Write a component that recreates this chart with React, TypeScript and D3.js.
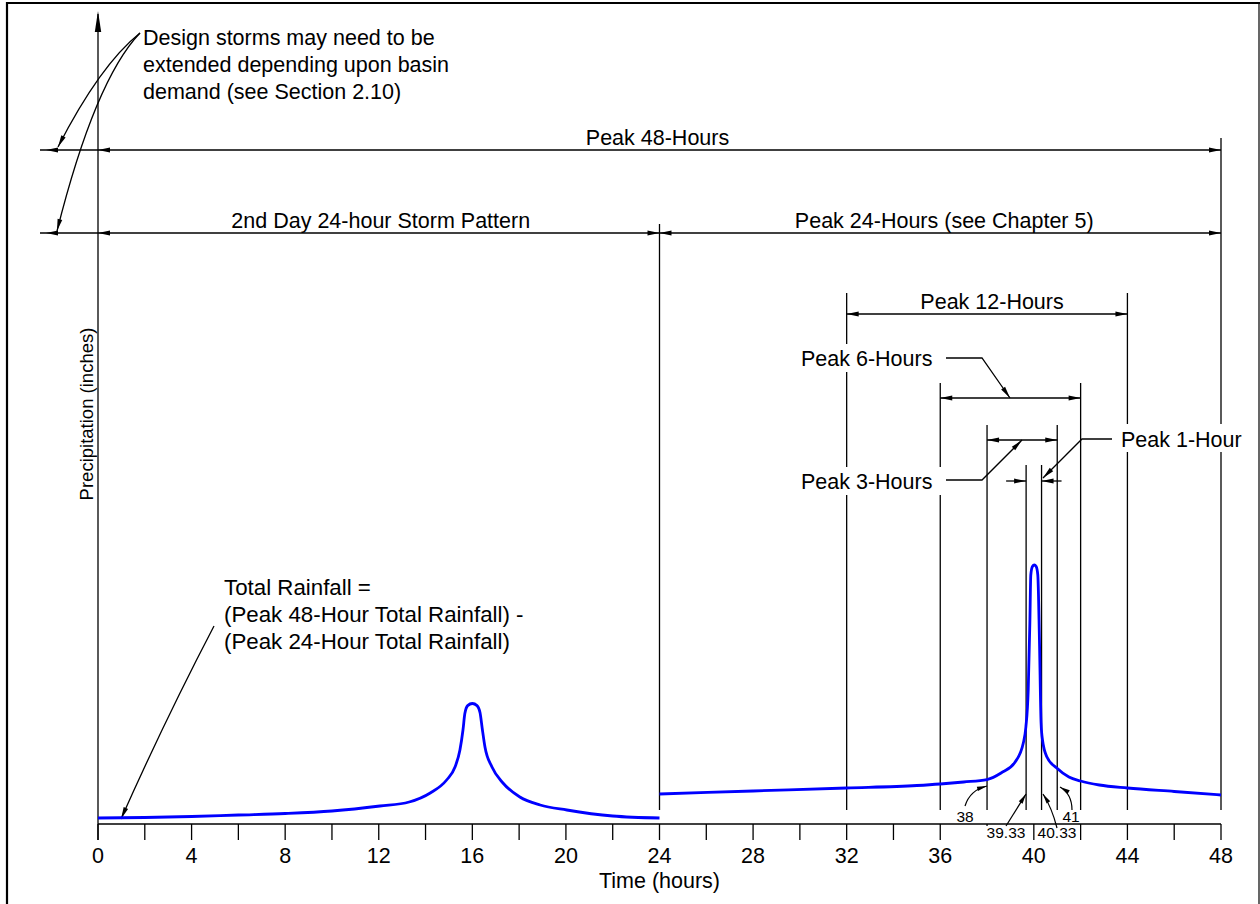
import React from 'react';
import * as d3 from 'd3';

// ---------- data ----------
const tickHours = d3.range(0, 49, 2);
const tickLabelHours = [0, 4, 8, 12, 16, 20, 24, 28, 32, 36, 40, 44, 48];

// 2nd day 24-hour storm pattern (hours, relative precipitation)
const day2Hours = [0, 2, 4, 6, 8, 10, 12.05, 13.3, 14.2, 14.9, 15.26, 15.47, 15.6, 15.68, 15.8, 16.0, 16.2, 16.33, 16.42, 16.54, 16.84, 17.31, 18.03, 18.9, 20.04, 22, 24];
const day2Values = [0.75, 0.81, 0.94, 1.125, 1.31, 1.625, 2.25, 2.75, 3.875, 5.5, 7.125, 9.25, 11.75, 13.8, 14.8, 15.06, 14.8, 13.9, 12.0, 9.625, 7.125, 5.125, 3.375, 2.375, 1.75, 1.0, 0.75];

// peak 24-hour storm (hours, relative precipitation)
const peakHours = [24, 28, 32, 35, 36, 37, 38, 38.6, 39.2, 39.55, 39.66, 39.76, 39.83, 39.87, 39.94, 40.02, 40.1, 40.17, 40.24, 40.31, 40.37, 40.56, 40.98, 41.5, 42, 42.8, 44, 46, 48];
const peakValues = [3.75, 4.125, 4.5, 4.81, 5.0, 5.25, 5.56, 6.375, 7.75, 10.125, 12.125, 16.75, 25.125, 31.125, 32.19, 32.375, 32.19, 31.125, 23, 12.625, 10.5, 8.375, 7.0, 5.875, 5.375, 4.875, 4.5, 4.06, 3.625];

// duration windows (hours)
const win48 = [0, 48];
const win2nd = [0, 24];
const win24 = [24, 48];
const win12 = [32, 44];
const win6 = [36, 42];
const win3 = [38, 41];
const win1Drawn = [39.67, 40.33]; // positions as drawn in the figure
const win1Labels = ['39.33', '40.33'];
const win3Labels = ['38', '41'];

const noteLines = ['Design storms may need to be', 'extended depending upon basin', 'demand (see Section 2.10)'];
const totalLines = ['Total Rainfall =', '(Peak 48-Hour Total Rainfall) -', '(Peak 24-Hour Total Rainfall)'];

// ---------- layout ----------
const FONT = '"Liberation Sans", Arial, Helvetica, sans-serif';
const FS = 21.5;
const AXIS_Y = 824;
const EXT_BOTTOM = 810;

const x = d3.scaleLinear().domain([0, 48]).range([98, 1221]);
const y = d3.scaleLinear().domain([0, 100]).range([AXIS_Y, 24]);

const line = d3.line<number>()
  .x((d: any) => x(d[0]))
  .y((d: any) => y(d[1]))
  .curve(d3.curveMonotoneX) as any;

function arrowHead(tx: number, ty: number, dx: number, dy: number, len = 12, half = 2.4, key?: string) {
  const m = Math.hypot(dx, dy) || 1;
  const ux = dx / m, uy = dy / m;
  const bx = tx - ux * len, by = ty - uy * len;
  const px = -uy * half, py = ux * half;
  const pts = `${tx},${ty} ${bx + px},${by + py} ${bx - px},${by - py}`;
  return <polygon key={key} points={pts} fill="#000" stroke="none" />;
}

function DimLine({ x1, x2, yy }: { x1: number; x2: number; yy: number }) {
  return (
    <g>
      <line x1={x1} x2={x2} y1={yy} y2={yy} stroke="#000" strokeWidth={1.3} />
      {arrowHead(x1, yy, -1, 0)}
      {arrowHead(x2, yy, 1, 0)}
    </g>
  );
}

export default function App() {
  const day2 = day2Hours.map((h, i) => [h, day2Values[i]]);
  const peak = peakHours.map((h, i) => [h, peakValues[i]]);

  const vline = (h: number, top: number, key: string) => (
    <line key={key} x1={x(h)} x2={x(h)} y1={top} y2={EXT_BOTTOM} stroke="#000" strokeWidth={1.3} />
  );

  const mask = (x0: number, y0: number, w: number, h: number, key: string) => (
    <rect key={key} x={x0} y={y0} width={w} height={h} fill="#fff" />
  );

  return (
    <svg width={1260} height={904} style={{ position: 'absolute', left: 0, top: 0, background: '#fff' }}
      fontFamily={FONT}>
      <rect x={0} y={0} width={1260} height={904} fill="#fff" />
      {/* frame */}
      <line x1={7} x2={7} y1={2} y2={904} stroke="#000" strokeWidth={2.2} />
      <line x1={6} x2={1260} y1={3} y2={3} stroke="#000" strokeWidth={2.2} />
      <line x1={1259} x2={1259} y1={2} y2={904} stroke="#000" strokeWidth={1.2} />

      {/* y axis */}
      <line x1={x(0)} x2={x(0)} y1={14} y2={840} stroke="#000" strokeWidth={1.3} />
      {arrowHead(x(0), 11, 0, -1, 21, 3.2)}
      <text transform={`translate(93,414) rotate(-90)`} textAnchor="middle" fontSize={18.5} fill="#000">Precipitation (inches)</text>

      {/* x axis */}
      <line x1={x(0)} x2={x(48)} y1={AXIS_Y} y2={AXIS_Y} stroke="#000" strokeWidth={1.3} />
      {tickHours.map(h => (
        <line key={'t' + h} x1={x(h)} x2={x(h)} y1={AXIS_Y} y2={840} stroke="#000" strokeWidth={1.3} />
      ))}
      {tickLabelHours.map(h => (
        <text key={'tl' + h} x={x(h)} y={863} textAnchor="middle" fontSize={FS} fill="#000">{h}</text>
      ))}
      <text x={x(24)} y={888} textAnchor="middle" fontSize={FS} fill="#000">Time (hours)</text>

      {/* extension lines */}
      {vline(win48[1], 138, 'v48')}
      {vline(win24[0], 224, 'v24')}
      {vline(win12[0], 293, 'v12a')}
      {vline(win12[1], 293, 'v12b')}
      {vline(win6[0], 383, 'v6a')}
      {vline(win6[1], 383, 'v6b')}
      {vline(win3[0], 425, 'v3a')}
      {vline(win3[1], 425, 'v3b')}
      {vline(win1Drawn[0], 465, 'v1a')}
      {vline(win1Drawn[1], 465, 'v1b')}

      {/* 48-hour row */}
      <line x1={40} x2={x(win48[0])} y1={150} y2={150} stroke="#000" strokeWidth={1.3} />
      {arrowHead(46, 150, -1, 0)}
      <DimLine x1={x(win48[0])} x2={x(win48[1])} yy={150} />
      <text x={(x(win48[0]) + x(win48[1])) / 2 - 2} y={145} textAnchor="middle" fontSize={FS}>Peak 48-Hours</text>

      {/* 24-hour row */}
      <line x1={40} x2={x(win2nd[0])} y1={233} y2={233} stroke="#000" strokeWidth={1.3} />
      {arrowHead(46, 233, -1, 0)}
      <DimLine x1={x(win2nd[0])} x2={x(win2nd[1])} yy={233} />
      <DimLine x1={x(win24[0])} x2={x(win24[1])} yy={233} />
      <text x={(x(win2nd[0]) + x(win2nd[1])) / 2 + 2} y={228} textAnchor="middle" fontSize={FS}>2nd Day 24-hour Storm Pattern</text>
      <text x={(x(win24[0]) + x(win24[1])) / 2 + 4} y={228} textAnchor="middle" fontSize={FS}>Peak 24-Hours (see Chapter 5)</text>

      {/* 12-hour */}
      <DimLine x1={x(win12[0])} x2={x(win12[1])} yy={314} />
      <text x={(x(win12[0]) + x(win12[1])) / 2 + 5} y={309} textAnchor="middle" fontSize={FS}>Peak 12-Hours</text>

      {/* 6-hour */}
      <DimLine x1={x(win6[0])} x2={x(win6[1])} yy={398} />
      {/* 3-hour */}
      <DimLine x1={x(win3[0])} x2={x(win3[1])} yy={440} />
      {/* 1-hour (arrows outside) */}
      <line x1={x(win1Drawn[0]) - 20} x2={x(win1Drawn[0])} y1={481} y2={481} stroke="#000" strokeWidth={1.3} />
      {arrowHead(x(win1Drawn[0]), 481, 1, 0)}
      <line x1={x(win1Drawn[1])} x2={x(win1Drawn[1]) + 20} y1={481} y2={481} stroke="#000" strokeWidth={1.3} />
      {arrowHead(x(win1Drawn[1]), 481, -1, 0)}

      {/* text masks and labels */}
      {mask(797, 344, 150, 28, 'm6')}
      {mask(797, 467, 150, 28, 'm3')}
      {mask(1116, 424, 134, 28, 'm1')}
      <text x={801} y={366} fontSize={FS}>Peak 6-Hours</text>
      <text x={801} y={489} fontSize={FS}>Peak 3-Hours</text>
      <text x={1121} y={447} fontSize={FS}>Peak 1-Hour</text>

      {/* leaders */}
      <polyline points="946,358 982,358 1010,398" fill="none" stroke="#000" strokeWidth={1.3} />
      {arrowHead(1010, 398, 28, 40)}
      <polyline points="946,480 982,480 1022,440" fill="none" stroke="#000" strokeWidth={1.3} />
      {arrowHead(1022, 440, 40, -40)}
      <polyline points="1112,439 1082,439 1043,478" fill="none" stroke="#000" strokeWidth={1.3} />
      {arrowHead(1043, 478, -39, 39)}

      {/* note at top-left */}
      {noteLines.map((t, i) => (
        <text key={'n' + i} x={143} y={45 + i * 27} fontSize={FS}>{t}</text>
      ))}
      <path d="M140,33 Q100,65 58,147" fill="none" stroke="#000" strokeWidth={1.3} />
      {arrowHead(58, 147, -42, 82)}
      <path d="M140,33 Q95,80 57,231" fill="none" stroke="#000" strokeWidth={1.3} />
      {arrowHead(57, 231, -38, 151)}

      {/* total rainfall note */}
      {totalLines.map((t, i) => (
        <text key={'tr' + i} x={224} y={595 + i * 27} fontSize={22.3}>{t}</text>
      ))}
      <path d="M214,626 Q165,720 121,819" fill="none" stroke="#000" strokeWidth={1.3} />
      {arrowHead(121, 819, -44, 99)}

      {/* hyetographs */}
      <path d={line(day2)} fill="none" stroke="#0000ff" strokeWidth={2.8} strokeLinejoin="round" />
      <path d={line(peak)} fill="none" stroke="#0000ff" strokeWidth={2.8} strokeLinejoin="round" />

      {/* small window labels */}
      {mask(985, 826, 44, 15, 'm39')}
      <text x={965} y={822} textAnchor="middle" fontSize={15.5}>{win3Labels[0]}</text>
      <text x={1071} y={822} textAnchor="middle" fontSize={15.5}>{win3Labels[1]}</text>
      <text x={1006} y={838} textAnchor="middle" fontSize={15.5}>{win1Labels[0]}</text>
      <text x={1057} y={838} textAnchor="middle" fontSize={15.5}>{win1Labels[1]}</text>
      <path d="M965,806 Q970,790 987,786" fill="none" stroke="#000" strokeWidth={1.2} />
      {arrowHead(987, 786, 17, -5, 10, 2.2)}
      <path d="M1006,826 L1026,794" fill="none" stroke="#000" strokeWidth={1.2} />
      {arrowHead(1026, 794, 20, -32, 10, 2.2)}
      <path d="M1057,828 Q1052,808 1043,794" fill="none" stroke="#000" strokeWidth={1.2} />
      {arrowHead(1043, 794, -9, -14, 10, 2.2)}
      <path d="M1072,810 Q1072,794 1060,787" fill="none" stroke="#000" strokeWidth={1.2} />
      {arrowHead(1060, 787, -12, -7, 10, 2.2)}
    </svg>
  );
}
